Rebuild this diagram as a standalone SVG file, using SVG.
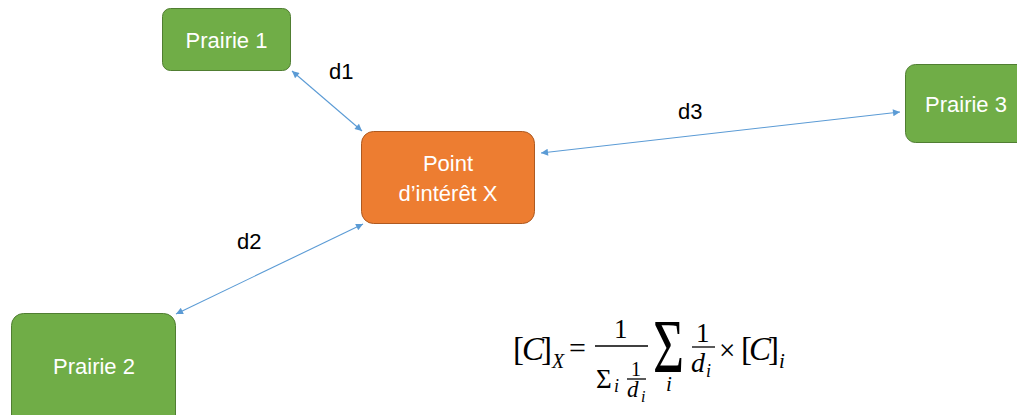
<svg xmlns="http://www.w3.org/2000/svg" width="1017" height="415" viewBox="0 0 1017 415">
<defs>
<style>
.green{fill:#70AD47;stroke:#507E32;stroke-width:1}
.orange{fill:#ED7D31;stroke:#AE5A21;stroke-width:1}
.lbl{font-family:"Liberation Sans",Arial,sans-serif;font-size:22px;fill:#FFFFFF;text-anchor:middle}
.dl{font-family:"Liberation Sans",Arial,sans-serif;font-size:22px;fill:#000000}
.conn{stroke:#5B9BD5;stroke-width:1.1;fill:none;marker-start:url(#arr);marker-end:url(#arr)}
.m{font-family:"Liberation Serif","Times New Roman",serif;fill:#000000}
.it{font-style:italic}
.bar{stroke:#000000;stroke-width:1.3}
</style>
<marker id="arr" viewBox="0 0 10 10" refX="10" refY="5" markerUnits="userSpaceOnUse" markerWidth="9" markerHeight="7" orient="auto-start-reverse">
<path d="M0,0 L10,5 L0,10 z" fill="#5B9BD5"/>
</marker>
</defs>
<rect width="1017" height="415" fill="#FFFFFF"/>
<g id="connectors">
<line class="conn" x1="292" y1="71" x2="362" y2="131"/>
<line class="conn" x1="176" y1="314" x2="363" y2="224"/>
<line class="conn" x1="541" y1="153" x2="900" y2="112"/>
<text class="dl" x="329" y="79">d1</text>
<text class="dl" x="237" y="249">d2</text>
<text class="dl" x="678" y="119">d3</text>
</g>
<g id="prairie1">
<rect class="green" x="162.5" y="8.5" width="128" height="62" rx="8"/>
<text class="lbl" x="226.5" y="48">Prairie 1</text>
</g>
<g id="point">
<rect class="orange" x="361.5" y="131.5" width="173" height="92" rx="12"/>
<text class="lbl" x="448" y="171">Point</text>
<text class="lbl" x="448" y="201">d’intérêt X</text>
</g>
<g id="prairie3">
<rect class="green" x="905.5" y="64.5" width="130" height="78" rx="10"/>
<text class="lbl" x="966" y="112">Prairie 3</text>
</g>
<g id="prairie2">
<rect class="green" x="11.5" y="313.5" width="164" height="120" rx="12"/>
<text class="lbl" x="94" y="374">Prairie 2</text>
</g>
<g id="formula">
<text class="m" x="513" y="360" font-size="33">[</text>
<text class="m it" x="522" y="360" font-size="33">C</text>
<text class="m" x="541" y="360" font-size="33">]</text>
<text class="m it" x="552" y="368" font-size="20">X</text>
<text class="m" x="569" y="358" font-size="30">=</text>
<text class="m" x="614" y="338" font-size="27">1</text>
<line class="bar" x1="595" y1="346" x2="648" y2="346"/>
<text class="m" x="596" y="388" font-size="27">Σ</text>
<text class="m it" x="614" y="392" font-size="18">i</text>
<text class="m" x="631" y="376" font-size="20">1</text>
<line class="bar" x1="627" y1="379" x2="646" y2="379"/>
<text class="m it" x="627" y="397" font-size="23">d</text>
<text class="m it" x="641" y="402" font-size="16">i</text>
<text class="m" font-size="58" transform="translate(653,372) scale(0.92,1.3)">Σ</text>
<text class="m it" x="666" y="391" font-size="21">i</text>
<text class="m" x="696" y="342" font-size="27">1</text>
<line class="bar" x1="692" y1="347" x2="715" y2="347"/>
<text class="m it" x="691" y="372" font-size="28">d</text>
<text class="m it" x="706" y="377" font-size="18">i</text>
<text class="m" x="719" y="360" font-size="29">×</text>
<text class="m" x="741" y="360" font-size="33">[</text>
<text class="m it" x="749" y="360" font-size="33">C</text>
<text class="m" x="768" y="360" font-size="33">]</text>
<text class="m it" x="779" y="368" font-size="21">i</text>
</g>
</svg>
